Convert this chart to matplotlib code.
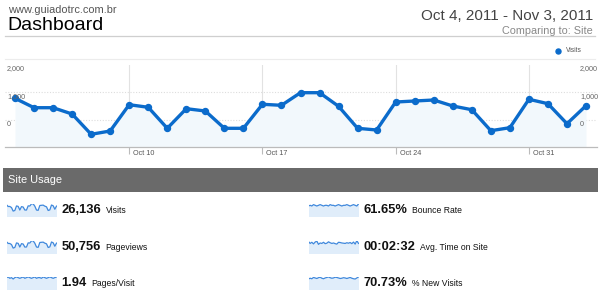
import matplotlib
matplotlib.use("Agg")
import matplotlib.pyplot as plt
from matplotlib.transforms import offset_copy
from matplotlib.patches import Rectangle
from matplotlib.lines import Line2D
import numpy as np

plt.rcParams['font.family'] = ['Liberation Sans', 'DejaVu Sans']

# ---------------- data ----------------
dates = ["Oct 4", "Oct 5", "Oct 6", "Oct 7", "Oct 8", "Oct 9", "Oct 10", "Oct 11",
         "Oct 12", "Oct 13", "Oct 14", "Oct 15", "Oct 16", "Oct 17", "Oct 18",
         "Oct 19", "Oct 20", "Oct 21", "Oct 22", "Oct 23", "Oct 24", "Oct 25",
         "Oct 26", "Oct 27", "Oct 28", "Oct 29", "Oct 30", "Oct 31", "Nov 1",
         "Nov 2", "Nov 3"]
visits = [1771, 1429, 1429, 1200, 462, 582, 1538, 1444, 680, 1393, 1309, 680, 680,
          1553, 1516, 1975, 1975, 1480, 680, 618, 1636, 1673, 1709, 1491, 1356,
          593, 702, 1735, 1575, 847, 1502]
tick_labels = ["Oct 10", "Oct 17", "Oct 24", "Oct 31"]
y_ticks = [0, 1000, 2000]
y_tick_labels = ["0", "1,000", "2,000"]

pageviews = [3450, 2790, 2760, 2330, 900, 1150, 2990, 2810, 1320, 2700, 2540, 1300,
             1330, 3010, 2940, 3830, 3820, 2870, 1330, 1200, 3170, 3250, 3310, 2890,
             2630, 1150, 1370, 3370, 3050, 1650, 2920]
pages_visit = [1.95, 1.96, 1.94, 1.95, 1.93, 1.95, 1.96, 1.95, 1.94, 1.95, 1.96, 1.94,
               1.95, 1.96, 1.95, 1.94, 1.95, 1.96, 1.94, 1.95, 1.95, 1.94, 1.96, 1.95,
               1.94, 1.95, 1.96, 1.95, 1.94, 1.95, 1.96]
bounce_rate = [61.5, 61.6, 61.5, 61.7, 61.6, 61.5, 61.6, 61.7, 61.6, 61.5, 61.6, 61.6,
               61.5, 61.7, 61.6, 61.6, 61.5, 61.6, 61.7, 61.6, 61.5, 61.6, 61.6, 61.7,
               61.6, 61.5, 61.6, 61.7, 61.6, 61.5, 61.8]
avg_time = [158, 150, 155, 148, 156, 160, 146, 152, 150, 155, 149, 151, 157, 153,
            150, 152, 149, 147, 155, 154, 152, 151, 150, 153, 151, 154, 149, 156,
            147, 162, 150]
new_visits = [70.2, 70.5, 70.3, 70.8, 70.6, 70.4, 70.7, 70.9, 70.5, 70.3, 70.6, 70.8,
              71.0, 70.7, 70.5, 70.6, 70.9, 70.8, 70.6, 70.4, 70.5, 70.7, 70.6, 70.4,
              70.6, 70.8, 70.5, 70.3, 70.2, 70.6, 71.0]

metrics_left = [("26,136", "Visits", visits),
                ("50,756", "Pageviews", pageviews),
                ("1.94", "Pages/Visit", pages_visit)]
metrics_right = [("61.65%", "Bounce Rate", bounce_rate),
                 ("00:02:32", "Avg. Time on Site", avg_time),
                 ("70.73%", "% New Visits", new_visits)]

# ---------------- figure ----------------
W, H = 600, 292
fig = plt.figure(figsize=(W / 100, H / 100), dpi=100)
fig.patch.set_facecolor("white")


def fx(px):
    return px / W


def fy(py):
    return 1 - py / H


# header texts
fig.text(fx(8), fy(10), "www.guiadotrc.com.br", fontsize=7.9, color="#555555",
         ha="left", va="center")
fig.text(fx(7), fy(26), "Dashboard", fontsize=14, color="black", ha="left", va="center")
fig.text(fx(593), fy(16), "Oct 4, 2011 - Nov 3, 2011", fontsize=11, color="#444444",
         ha="right", va="center")
fig.text(fx(593), fy(31), "Comparing to: Site", fontsize=7.8, color="#888888",
         ha="right", va="center")
fig.add_artist(Line2D([fx(5), fx(595)], [fy(36), fy(36)], color="#cfcfcf", lw=0.9))
fig.add_artist(Line2D([fx(5), fx(595)], [fy(58.5), fy(58.5)], color="#ececec", lw=0.8))

# legend
line_color = "#0b6bcb"
fig.add_artist(Line2D([fx(558)], [fy(51)], marker="o", markersize=3.6,
                      color=line_color, lw=0))
fig.text(fx(566), fy(51), "Visits", fontsize=4.8, color="#555555", ha="left", va="center")

# ---------------- main chart ----------------
ax_left, ax_right, ax_top, ax_bot = 5, 597, 65, 147
ax = fig.add_axes([fx(ax_left), fy(ax_bot), fx(ax_right - ax_left), (ax_bot - ax_top) / H])
x = np.arange(len(visits))
px_per_day = 19.05
ax.set_xlim(-(15 - ax_left) / px_per_day, (len(visits) - 1) + (ax_right - 586) / px_per_day)
ax.set_ylim(0, (ax_bot - ax_top) / 27.5 * 1000)

ax.fill_between(x, visits, 0, color="#f2f8fc", lw=0, zorder=1)
ax.plot(x, visits, color=line_color, lw=2.4, marker="o", markersize=4.3, zorder=3,
        solid_joinstyle="round")

for s in ["top", "left", "right"]:
    ax.spines[s].set_visible(False)
ax.spines["bottom"].set_color("#bbbbbb")
ax.spines["bottom"].set_linewidth(0.9)
ax.set_facecolor("none")

tick_idx = [dates.index(t) for t in tick_labels]
ax.set_xticks(tick_idx)
ax.set_xticklabels([])
ax.tick_params(axis="x", direction="out", length=5, width=0.8, color="#bbbbbb")
ax.set_yticks([])
for t in tick_idx:
    ax.axvline(t, color="#e2e2e2", lw=0.8, zorder=0)
for yv in y_ticks[1:]:
    ax.axhline(yv, color="#dddddd", lw=0.8, ls=(0, (1, 1.5)), zorder=0)

tl_trans = offset_copy(ax.transData, fig=fig, x=4, y=-3, units="dots")
for t, lab in zip(tick_idx, tick_labels):
    ax.text(t, 0, lab, transform=tl_trans, fontsize=5.2, color="#555555",
            ha="left", va="top", clip_on=False)

yl_trans = offset_copy(ax.get_yaxis_transform(), fig=fig, y=23, units="dots")
for yv, lab in zip(y_ticks, y_tick_labels):
    ax.text((7 - ax_left) / (ax_right - ax_left), yv, lab, transform=yl_trans,
            fontsize=5.2, color="#666666", ha="left", va="center", clip_on=False)
    ax.text((580 - ax_left) / (ax_right - ax_left), yv, lab, transform=yl_trans,
            fontsize=5.2, color="#666666", ha="left", va="center", clip_on=False)

# ---------------- site usage ----------------
fig.add_artist(Rectangle((fx(3), fy(191.5)), fx(594.5), (191.5 - 168) / H,
                         facecolor="#6a6a6a", edgecolor="none"))
fig.text(fx(8), fy(180), "Site Usage", fontsize=7.9, color="white", ha="left", va="center")

row_centers = [210, 247, 283]
spark_fill = "#e0edfa"
spark_line = "#3f88dc"

renderer = fig.canvas.get_renderer()


def draw_metric(x0, yc, number, label, series):
    sax = fig.add_axes([fx(x0), fy(yc + 6.5), fx(50), 13 / H])
    arr = np.asarray(series, dtype=float)
    lo, hi = arr.min(), arr.max()
    rng = hi - lo if hi > lo else 1.0
    if label in ("Visits", "Pageviews"):
        ylo, yhi = lo - rng * 0.75, hi + rng * 0.05
    elif label == "Avg. Time on Site":
        ylo, yhi = lo - rng * 2.5, hi + rng * 0.05
    else:
        ylo, yhi = lo - rng * 5.0, hi + rng * 0.2
    xs = np.arange(len(arr))
    sax.fill_between(xs, arr, ylo, color=spark_fill, lw=0)
    sax.plot(xs, arr, color=spark_line, lw=0.9)
    sax.set_xlim(0, len(arr) - 1)
    sax.set_ylim(ylo, yhi)
    sax.axis("off")
    tn = fig.text(fx(x0 + 55), fy(yc), number, fontsize=9.3, fontweight="bold",
                  color="#111111", ha="left", va="center")
    bb = tn.get_window_extent(renderer=renderer)
    fig.text(bb.x1 / W + fx(4.5), fy(yc + 0.5), label, fontsize=6.2, color="#111111",
             ha="left", va="center")


for (num, lab, ser), yc in zip(metrics_left, row_centers):
    draw_metric(6.5, yc, num, lab, ser)
for (num, lab, ser), yc in zip(metrics_right, row_centers):
    draw_metric(308.5, yc, num, lab, ser)

fig.savefig("out.png", dpi=100)
